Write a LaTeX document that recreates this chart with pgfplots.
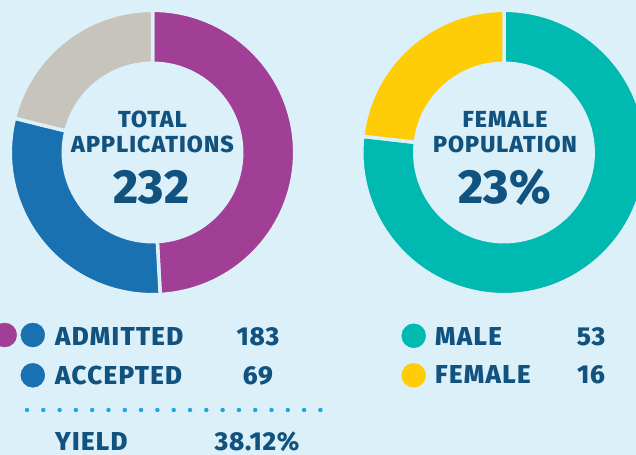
\documentclass[border=0pt]{standalone}
\usepackage{pgfplots}
\pgfplotsset{compat=1.18}
\usepackage{pgfplotstable}
\usepackage{fontspec}
\setmainfont{Fira Sans}[BoldFont={Fira Sans ExtraBold}]
\definecolor{bg}{HTML}{DCF0FA}
\definecolor{cpurple}{HTML}{A13E96}
\definecolor{cblue}{HTML}{1A71B1}
\definecolor{cgray}{HTML}{C7C4BE}
\definecolor{cteal}{HTML}{00B9B1}
\definecolor{cyellow}{HTML}{FECD08}
\definecolor{txt}{HTML}{11527E}
\definecolor{dots}{HTML}{21A7D9}

\pgfplotstableread{
label    value
Admitted 183
Accepted 69
Total    232
}\applications
\pgfplotstableread{
label  value
Male   53
Female 16
}\gender

% one donut segment: cx, cy, start (deg clockwise from top), end, colour
\newcommand{\donutseg}[5]{%
  \fill[#5, draw=bg, line width=3.5bp]
    (axis cs:#1,#2) ++({90-(#3)}:142.2bp)
    arc[start angle={90-(#3)}, end angle={90-(#4)}, radius=142.2bp]
    -- ++({270-(#4)}:53bp)
    arc[start angle={90-(#4)}, end angle={90-(#3)}, radius=89.2bp]
    -- cycle;}

\begin{document}
\begin{tikzpicture}[x=1bp,y=1bp]
\pgfplotstablegetelem{0}{value}\of\applications \edef\Adm{\pgfplotsretval}
\pgfplotstablegetelem{1}{value}\of\applications \edef\Acc{\pgfplotsretval}
\pgfplotstablegetelem{2}{value}\of\applications \edef\Tot{\pgfplotsretval}
\pgfplotstablegetelem{0}{value}\of\gender \edef\Male{\pgfplotsretval}
\pgfplotstablegetelem{1}{value}\of\gender \edef\Fem{\pgfplotsretval}
\pgfmathsetmacro\angPurple{(\Adm-\Acc)/\Tot*360}
\pgfmathsetmacro\angBlue{\angPurple+\Acc/\Tot*360}
\pgfmathsetmacro\angMale{\Male/(\Male+\Fem)*360}

\useasboundingbox (0,0) rectangle (636,455);
\clip (0,0) rectangle (636,455);
\fill[bg] (0,0) rectangle (636,455);

\begin{axis}[
  at={(0,0)}, anchor=origin,
  x=1bp, y=1bp, scale only axis,
  xmin=0, xmax=636, ymin=0, ymax=455,
  hide axis, clip=false,
]
\pgfplotsextra{%
  \donutseg{152.5}{302.5}{0}{\angPurple}{cpurple}
  \donutseg{152.5}{302.5}{\angPurple}{\angBlue}{cblue}
  \donutseg{152.5}{302.5}{\angBlue}{360}{cgray}
  \donutseg{504}{302.5}{0}{\angMale}{cteal}
  \donutseg{504}{302.5}{\angMale}{360}{cyellow}
}
\addplot[only marks, mark=*, mark size=12bp, cpurple, mark options={draw=none}] coordinates {(4.7,120)};
\addplot[only marks, mark=*, mark size=12bp, cblue, mark options={draw=none}] coordinates {(32.8,120) (32.8,79.7)};
\addplot[only marks, mark=*, mark size=12bp, cteal, mark options={draw=none}] coordinates {(413.7,119.2)};
\addplot[only marks, mark=*, mark size=12bp, cyellow, mark options={draw=none}] coordinates {(413.7,79.7)};
\end{axis}

\tikzset{ct/.style={anchor=base, inner sep=0, text=txt, font=\bfseries\fontsize{23.3}{27}\selectfont\addfontfeatures{LetterSpace=4.5}},
         big/.style={anchor=base, inner sep=0, text=txt, font=\bfseries\fontsize{48}{56}\selectfont\addfontfeatures{LetterSpace=1.5}},
         lg/.style={anchor=base west, inner sep=0, text=txt, font=\bfseries\fontsize{26}{30}\selectfont\addfontfeatures{LetterSpace=5}},
         lv/.style={anchor=base, inner sep=0, text=txt, font=\bfseries\fontsize{26}{30}\selectfont\addfontfeatures{LetterSpace=3}}}
\node[ct] at (152.5,327) {TOTAL};
\node[ct] at (152.5,302.5) {APPLICATIONS};
\node[big] at (151.5,251) {232};
\node[ct] at (505,327) {FEMALE};
\node[ct] at (505,302.5) {POPULATION};
\node[big] at (504.5,251) {23\%};

\node[lg] at (55,109.5) {ADMITTED};
\node[lv] at (258,109.5) {183};
\node[lg] at (55,70) {ACCEPTED};
\node[lv] at (258,70) {69};
\node[lg] at (55,4) {YIELD};
\node[lv] at (257,4) {38.12\%};
\node[lg] at (435,109.5) {MALE};
\node[lv] at (591,109.5) {53};
\node[lg] at (435,71) {FEMALE};
\node[lv] at (591,71) {16};

\draw[dots, line width=4.5bp, line cap=round, dash pattern=on 0bp off 16.3bp] (27,45) -- (321,45);
\end{tikzpicture}
\end{document}
